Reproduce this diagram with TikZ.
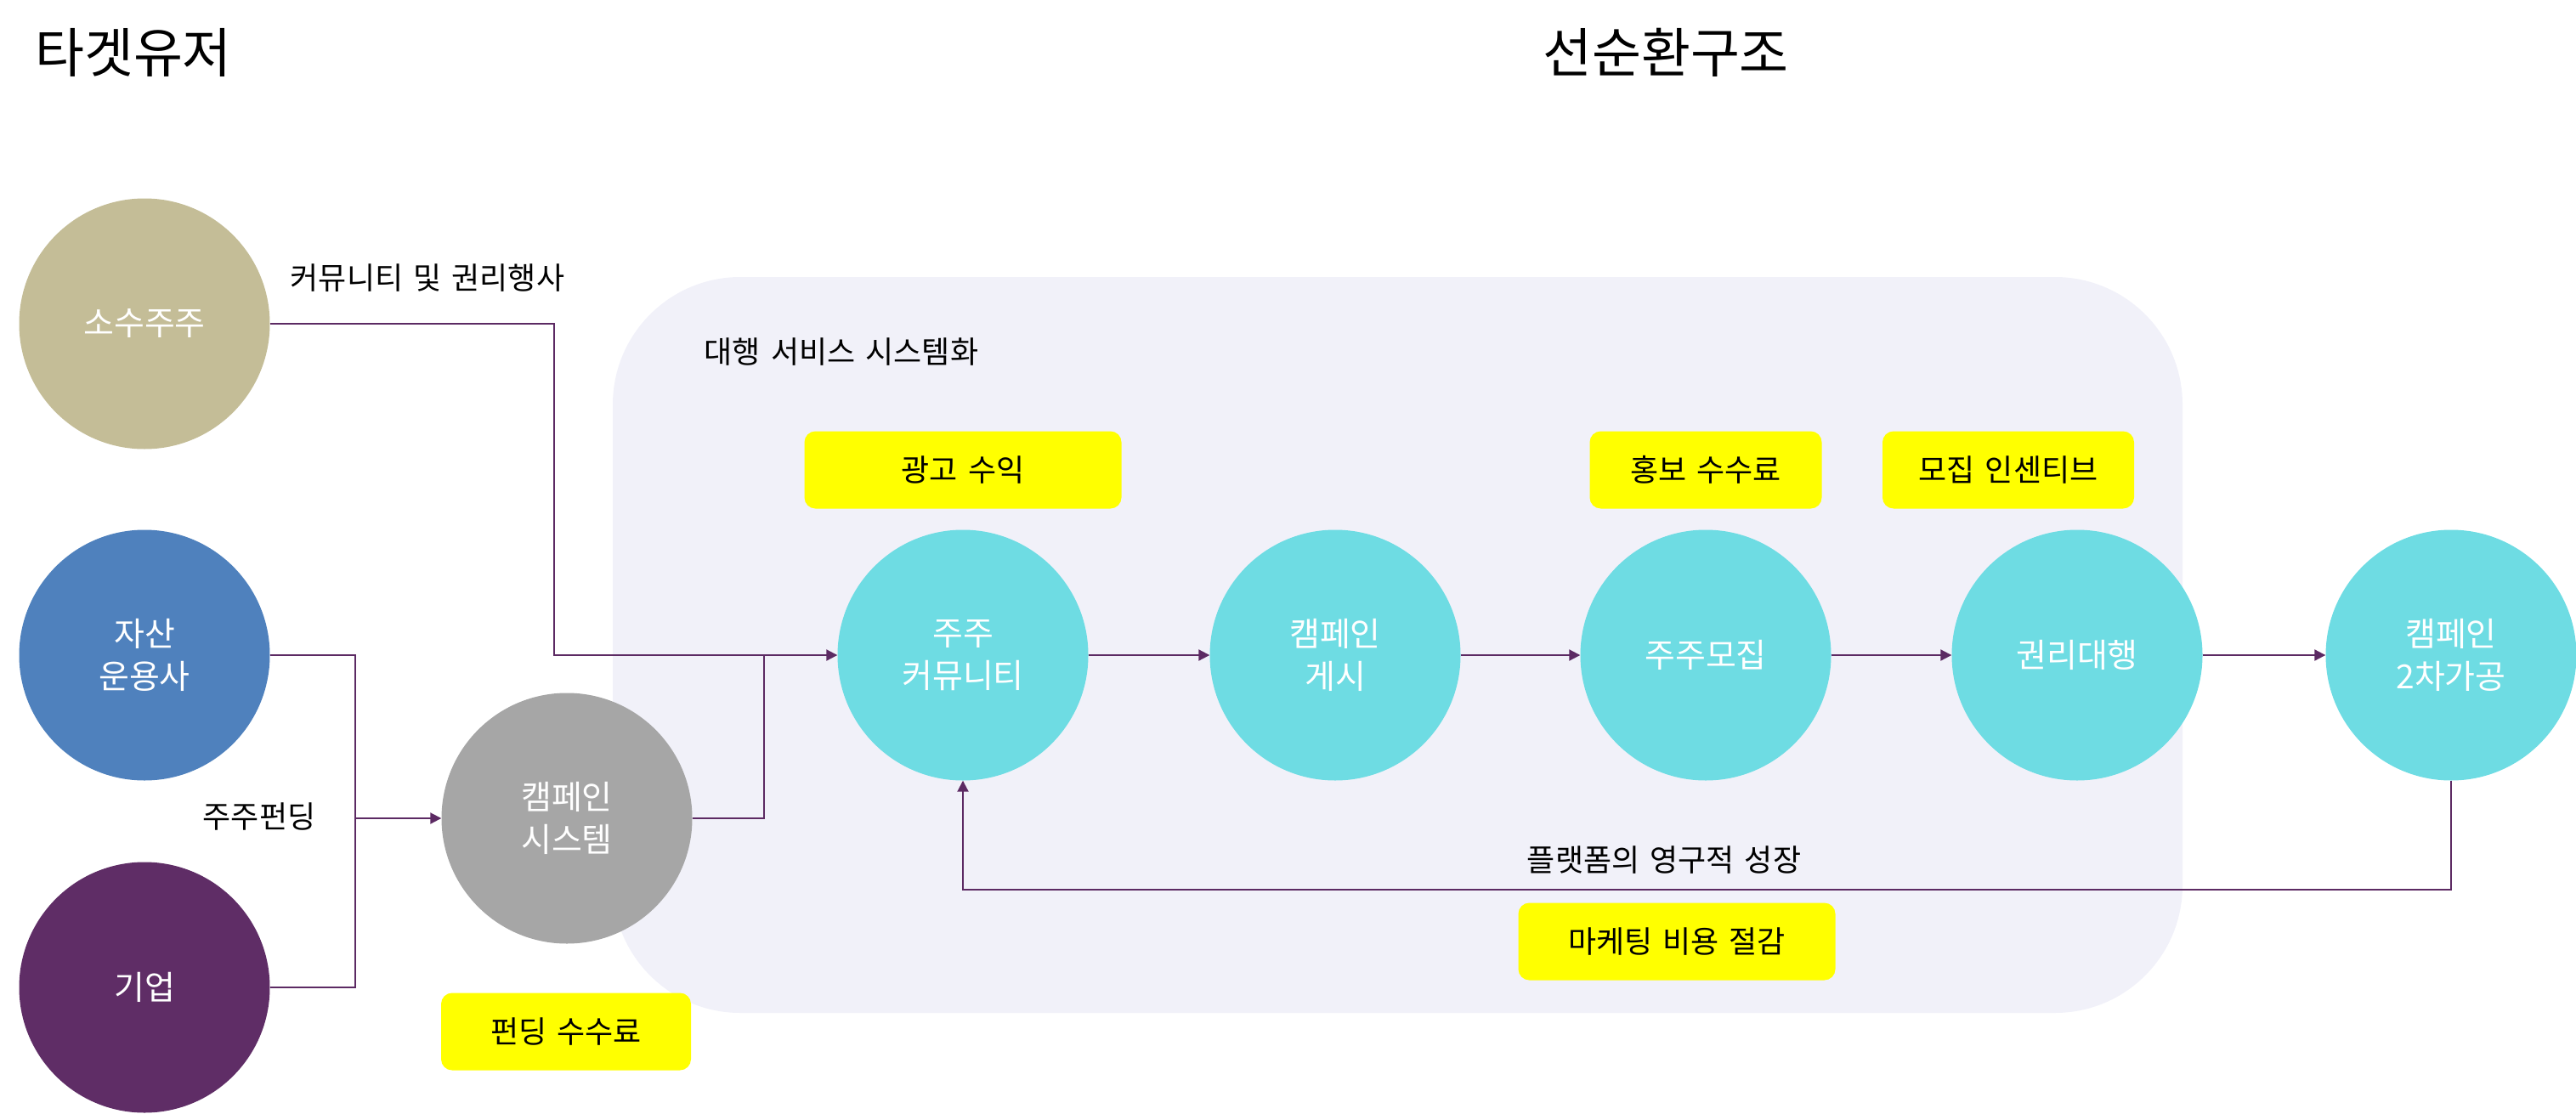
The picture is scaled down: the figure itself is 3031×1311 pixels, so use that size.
\documentclass[tikz,border=0pt]{standalone}
\usepackage{fontspec}
\setmainfont[WordSpace=1.5]{Noto Sans CJK KR}
\usetikzlibrary{arrows.meta}
\definecolor{tan}{HTML}{C4BD97}
\definecolor{cblue}{HTML}{4F81BD}
\definecolor{cpurple}{HTML}{5F2D66}
\definecolor{cgray}{HTML}{A6A6A6}
\definecolor{ccyan}{HTML}{6EDCE3}
\definecolor{bgpanel}{HTML}{F1F1F9}
\definecolor{linec}{HTML}{5C2A63}
\definecolor{yel}{HTML}{FFFF00}
\tikzset{
  disc/.style={circle, minimum size=295pt, inner sep=0pt, align=center, text=white,
    font=\fontsize{39}{50}\selectfont},
  tag/.style={fill=yel, rounded corners=13pt, inner sep=0pt, font=\fontsize{36}{42}\selectfont},
  lbl/.style={inner sep=0pt, font=\fontsize{36}{42}\selectfont},
  ttl/.style={inner sep=0pt, font=\fontsize{63}{74}\selectfont},
  conn/.style={draw=linec, line width=2pt},
  arr/.style={conn, -{Triangle[length=13pt,width=13pt]}}
}
\begin{document}
\begin{tikzpicture}[x=1pt,y=-1pt]
\useasboundingbox (0,0) rectangle (3031,1311);
% panel
\fill[bgpanel, rounded corners=150pt] (721,326) rectangle (2568,1192);
% titles
\node[ttl] (t1) at (157,62) {타겟유저};
\node[ttl] (t2) at (1960,62) {선순환구조};
% circles
\node[disc, fill=tan] (sosu) at (170,381) {소수주주};
\node[disc, fill=cblue] (jasan) at (170,771) {자산\\운용사};
\node[disc, fill=cpurple] (giup) at (170,1162) {기업};
\node[disc, fill=cgray] (camp) at (667,963) {캠페인\\시스템};
\node[disc, fill=ccyan] (comm) at (1133,771) {주주\\커뮤니티};
\node[disc, fill=ccyan] (post) at (1571,771) {캠페인\\게시};
\node[disc, fill=ccyan] (recr) at (2007,771) {주주모집};
\node[disc, fill=ccyan] (agen) at (2444,771) {권리대행};
\node[disc, fill=ccyan] (proc) at (2884,771) {캠페인\\2차가공};
% yellow tags
\node[tag, minimum width=373pt, minimum height=91pt] (ad) at (1133,553) {광고 수익};
\node[tag, minimum width=273pt, minimum height=91pt] (promo) at (2007,553) {홍보 수수료};
\node[tag, minimum width=296pt, minimum height=91pt] (incent) at (2363,553) {모집 인센티브};
\node[tag, minimum width=373pt, minimum height=91pt] (mkt) at (1973,1108) {마케팅 비용 절감};
\node[tag, minimum width=294pt, minimum height=91pt] (fee) at (666,1214) {펀딩 수수료};
% labels
\node[lbl] (l1) at (503,327) {커뮤니티 및 권리행사};
\node[lbl] (l2) at (990,414) {대행 서비스 시스템화};
\node[lbl] (l3) at (305,961) {주주펀딩};
\node[lbl] (l4) at (1958,1012) {플랫폼의 영구적 성장};
% junctions
\coordinate (j1) at (652,771);
\coordinate (j2) at (418,963);
\coordinate (j3) at (899,771);
\coordinate (fb) at (2884,1047);
% connectors
\draw[arr] (sosu.east) -| (j1) -- (comm.west);
\draw[conn] (jasan.east) -| (j2);
\draw[conn] (giup.east) -| (j2);
\draw[arr] (j2) -- (camp.west);
\draw[conn] (camp.east) -| (j3);
\draw[arr] (comm.east) -- (post.west);
\draw[arr] (post.east) -- (recr.west);
\draw[arr] (recr.east) -- (agen.west);
\draw[arr] (agen.east) -- (proc.west);
\draw[arr] (proc.south) -- (fb) -| (comm.south);
\end{tikzpicture}
\end{document}
